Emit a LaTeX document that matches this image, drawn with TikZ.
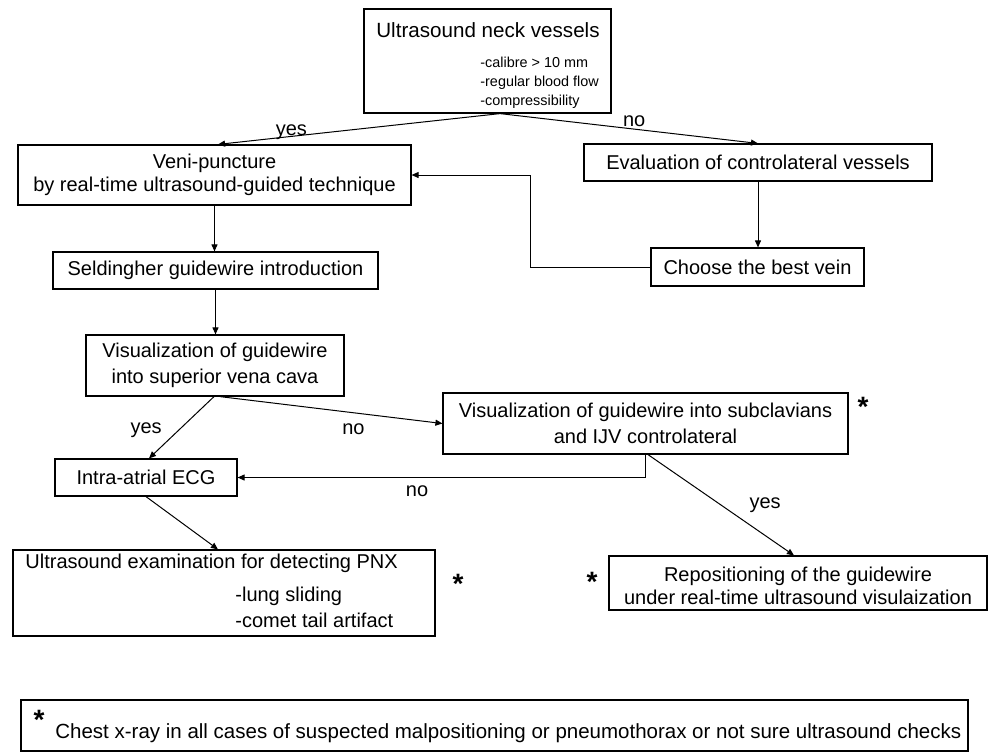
\documentclass[tikz,border=0pt]{standalone}
\usepackage{fontspec}
\setmainfont{Liberation Sans}
\usetikzlibrary{positioning,arrows.meta}

\begin{document}
\begin{tikzpicture}[
  x=0.5pt,y=-0.5pt,
  box/.style={draw,line width=0.6pt,inner sep=0pt,align=center,font=\fontsize{10}{13}\selectfont},
  txt/.style={inner sep=0pt,font=\fontsize{10}{13}\selectfont},
  small/.style={inner sep=0pt,align=left,font=\fontsize{7.2}{9.5}\selectfont},
  lbl/.style={inner sep=0pt,font=\fontsize{10}{12}\selectfont},
  star/.style={inner sep=0pt,font=\fontsize{14}{14}\selectfont\bfseries},
  >={Triangle[length=3.5pt,width=3pt]}]
\useasboundingbox (0,0) rectangle (992,752);
% boxes
\node[box,minimum width=123.5pt,minimum height=52pt] (top) at (487.5,61) {};
\node[txt,font=\fontsize{10.3}{13}\selectfont] (toptitle) at (488,30) {Ultrasound neck vessels};
\node[small,anchor=north west] (toplist) at (480,57) {-calibre > 10 mm\\-regular blood flow\\-compressibility};
\node[box,minimum width=196.5pt,minimum height=30pt,font=\fontsize{10}{11.5}\selectfont] (veni) at (214.5,175) {Veni-puncture\\by real-time ultrasound-guided technique};
\node[box,minimum width=174pt,minimum height=18.5pt] (eval) at (758,162.5) {Evaluation of controlateral vessels};
\node[box,minimum width=106.5pt,minimum height=19pt] (choose) at (757.5,267) {Choose the best vein};
\node[box,minimum width=162.5pt,minimum height=18.5pt] (seld) at (215.5,270.5) {Seldingher guidewire introduction};
\node[box,minimum width=129pt,minimum height=30.5pt] (vis1) at (215,365.5) {Visualization of guidewire\\into superior vena cava};
\node[box,minimum width=202.5pt,minimum height=30.5pt] (vis2) at (645.5,423.5) {Visualization of guidewire into subclavians\\and IJV controlateral};
\node[box,minimum width=91pt,minimum height=18.5pt] (ecg) at (146,477.5) {Intra-atrial ECG};
\node[box,minimum width=211pt,minimum height=43pt] (exam) at (224,593) {};
\node[txt,anchor=west] (examtitle) at (25,563) {Ultrasound examination for detecting PNX};
\node[txt,anchor=north west,align=left] (examlist) at (235,587) {-lung sliding\\-comet tail artifact};
\node[box,minimum width=189pt,minimum height=27pt] (repos) at (798,583) {};
\node[txt,align=center,font=\fontsize{10}{11.5}\selectfont] (repostext) at (798,586) {Repositioning of the guidewire\\under real-time ultrasound visulaization};
\node[box,minimum width=473.5pt,minimum height=25.5pt] (note) at (494.5,725.5) {};
\node[txt,anchor=west,font=\fontsize{10.25}{13}\selectfont] (notetext) at (55,733) {Chest x-ray in all cases of suspected malpositioning or pneumothorax or not sure ultrasound checks};
% stars
\node[star] (starvis) at (863,407) {*};
\node[star] (starrep) at (592,582) {*};
\node[star] (starexam) at (458,584) {*};
\node[star] (starnote) at (39,720) {*};
% connectors
\draw[->,line width=0.5pt] ([xshift=6.25pt]top.south) -- node[lbl,pos=0.74,above=-2pt] {yes} ([xshift=1.75pt]veni.north);
\draw[->,line width=0.5pt] ([xshift=6.25pt]top.south) -- node[lbl,pos=0.52,above=1pt] {no} (eval.north);
\draw[->,line width=0.5pt] (veni.south) -- (veni.south |- seld.north);
\draw[->,line width=0.5pt] (eval.south) -- (eval.south |- choose.north);
\draw[->,line width=0.5pt] (choose.west) -- ++(-120,0) |- (veni.east);
\draw[->,line width=0.5pt] (seld.south) -- (seld.south |- vis1.north);
\draw[->,line width=0.5pt] ([xshift=-0.5pt]vis1.south) -- node[lbl,pos=0.55,left=8pt] {yes} ([xshift=1.5pt]ecg.north);
\draw[->,line width=0.5pt] ([xshift=2.5pt]vis1.south) -- node[lbl,pos=0.6,below=5pt] {no} (vis2.west);
\draw[->,line width=0.5pt] (vis2.south) |- node[lbl,pos=0.78,below=4pt] {no} (ecg.east);
\draw[->,line width=0.5pt] ([xshift=1.25pt]vis2.south) -- node[lbl,pos=0.5,right=14pt] {yes} ([xshift=-2pt]repos.north);
\draw[->,line width=0.5pt] (ecg.south) -- ([xshift=-3pt]exam.north);
\end{tikzpicture}
\end{document}
